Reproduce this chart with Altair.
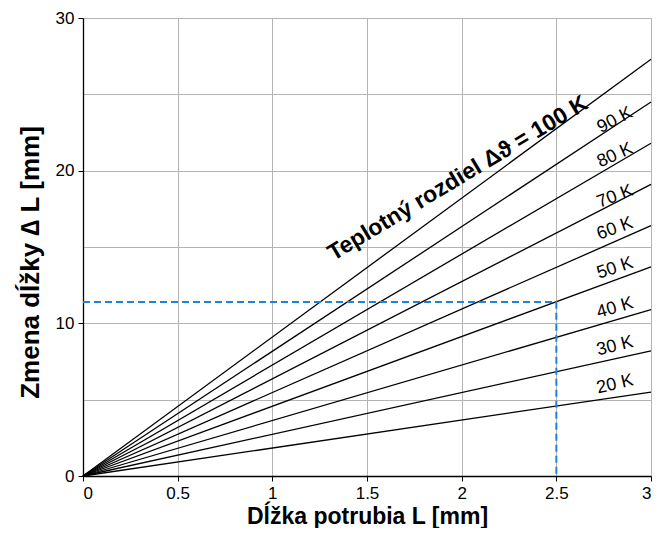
import altair as alt
import pandas as pd

# Temperature differences (K) and elongation at L = 3
temps = [20, 30, 40, 50, 60, 70, 80, 90, 100]
dl_at_3 = [5.5, 8.2, 10.9, 13.7, 16.4, 19.1, 21.8, 24.5, 27.3]
x_end = 3.0

# Dashed example path
ex_x = [0, 2.5, 2.5]
ex_y = [11.4, 11.4, 0]

# Small labels
lab_text = ["20 K", "30 K", "40 K", "50 K", "60 K", "70 K", "80 K", "90 K"]
lab_x = [2.81] * 8
lab_y = [6.0, 8.5, 11.0, 13.6, 16.2, 18.3, 21.0, 23.3]
lab_angle = [-13, -14, -16, -18, -20, -21, -24, -27]

# Big label
big_text = "Teplotný rozdiel Δϑ = 100 K"
big_x = 1.98
big_y = 19.5
big_angle = -31

rows = []
for t, v in zip(temps, dl_at_3):
    rows.append({"T": t, "x": 0.0, "y": 0.0})
    rows.append({"T": t, "x": x_end, "y": v})
lines_df = pd.DataFrame(rows)

ex_df = pd.DataFrame({"x": ex_x, "y": ex_y, "o": [0, 1, 2]})

lab_df = pd.DataFrame({"text": lab_text, "x": lab_x, "y": lab_y,
                       "angle": [360 + a for a in lab_angle]})

FONT = "Liberation Sans"
xs = alt.Scale(domain=[0, 3], nice=False)
ys = alt.Scale(domain=[0, 30], nice=False)

xaxis = alt.Axis(values=[0, 0.5, 1, 1.5, 2, 2.5, 3], format="~g", title="Dĺžka potrubia L [mm]",
                 grid=True, gridColor="#b4b4b4", gridWidth=1, domainColor="black", domainWidth=1.3,
                 tickColor="black", tickSize=5, labelFontSize=17, labelColor="black", labelFont=FONT,
                 titleFont=FONT, titleFontSize=23, titleFontWeight="bold", titleColor="black",
                 titlePadding=4, labelPadding=4)
yaxis = alt.Axis(values=[0, 5, 10, 15, 20, 25, 30], title="Zmena dĺžky ∆ L [mm]",
                 labelExpr="datum.value % 10 == 0 ? datum.label : ''",
                 tickOpacity={"condition": {"test": "datum.value % 10 == 0", "value": 1}, "value": 0},
                 grid=True, gridColor="#b4b4b4", gridWidth=1, domainColor="black", domainWidth=1.3,
                 tickColor="black", tickSize=5, labelFontSize=17, labelColor="black", labelFont=FONT,
                 titleFont=FONT, titleFontSize=26, titleFontWeight="bold", titleColor="black",
                 titlePadding=12, labelPadding=4, titleY=244)

lines = alt.Chart(lines_df).mark_line(color="black", strokeWidth=1.3).encode(
    x=alt.X("x:Q", scale=xs, axis=xaxis),
    y=alt.Y("y:Q", scale=ys, axis=yaxis),
    detail="T:N",
)

dashed = alt.Chart(ex_df).mark_line(color="#1f84d6", strokeWidth=2, strokeDash=[7, 4]).encode(
    x=alt.X("x:Q", scale=xs), y=alt.Y("y:Q", scale=ys), order="o:Q"
)

labels = alt.Chart(lab_df).mark_text(font=FONT, fontSize=18, color="black", baseline="middle",
                                     align="center").encode(
    x=alt.X("x:Q", scale=xs), y=alt.Y("y:Q", scale=ys), text="text:N",
    angle=alt.Angle("angle:Q", scale=None),
)

big = alt.Chart(pd.DataFrame({"x": [big_x], "y": [big_y], "t": [big_text]})).mark_text(
    font=FONT, fontSize=23, fontWeight="bold", color="black", angle=360 + big_angle,
    align="center", baseline="middle"
).encode(x=alt.X("x:Q", scale=xs), y=alt.Y("y:Q", scale=ys), text="t:N")

chart = alt.layer(lines, dashed, labels, big).properties(
    width=568, height=458,
    autosize=alt.AutoSizeParams(type="none"),
    padding={"left": 75, "top": 10, "right": 7, "bottom": 52},
).configure_view(stroke=None).configure(background="white")

chart.save("out.html", embed_options={"renderer": "svg", "actions": False})
